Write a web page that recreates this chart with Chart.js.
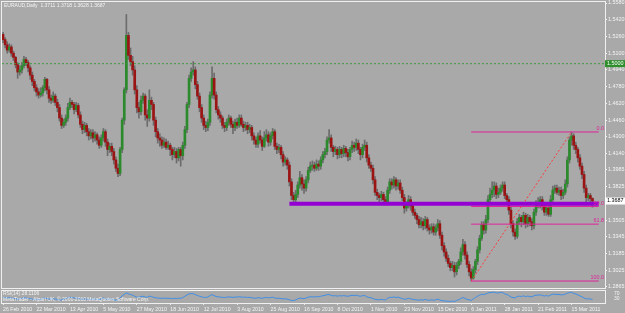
<!DOCTYPE html>
<html>
<head>
<meta charset="utf-8">
<script src="https://cdn.jsdelivr.net/npm/chart.js@4.4.0/dist/chart.umd.min.js"></script>
<style>
  html, body { margin: 0; padding: 0; background: #a9a9a9; overflow: hidden; }
  #wrap { position: relative; width: 625px; height: 313px; }
  #main { position: absolute; left: 0; top: 0; }
  #sub { position: absolute; left: 0; top: 289px; }
</style>
</head>
<body>
<div id="wrap">
  <canvas id="main" width="625" height="290"></canvas>
  <canvas id="sub" width="625" height="24"></canvas>
</div>
<script>
// EURAUD Daily, one entry per bar (26 Feb 2010 .. 25 Mar 2011)
const opens = [
  1.528,1.523,1.518,1.513,1.516,1.510,1.506,1.499,1.492,1.494,
  1.498,1.504,1.501,1.496,1.489,1.483,1.477,1.473,1.470,1.472,
  1.477,1.485,1.475,1.467,1.465,1.469,1.463,1.458,1.448,1.441,
  1.444,1.448,1.458,1.463,1.461,1.456,1.460,1.451,1.442,1.437,
  1.441,1.435,1.431,1.434,1.429,1.432,1.427,1.422,1.429,1.435,
  1.425,1.418,1.421,1.416,1.408,1.400,1.395,1.418,1.446,1.475,
  1.527,1.508,1.502,1.494,1.475,1.458,1.454,1.465,1.469,1.451,
  1.448,1.465,1.461,1.446,1.435,1.429,1.427,1.422,1.425,1.420,
  1.422,1.418,1.413,1.416,1.410,1.418,1.412,1.422,1.437,1.461,
  1.486,1.492,1.494,1.480,1.469,1.458,1.448,1.441,1.439,1.444,
  1.470,1.486,1.470,1.456,1.451,1.448,1.441,1.439,1.444,1.448,
  1.442,1.439,1.444,1.441,1.448,1.442,1.439,1.441,1.437,1.439,
  1.431,1.427,1.423,1.431,1.427,1.421,1.429,1.432,1.425,1.431,
  1.435,1.421,1.418,1.420,1.413,1.406,1.408,1.403,1.387,1.374,
  1.370,1.375,1.384,1.391,1.385,1.381,1.389,1.398,1.402,1.403,
  1.400,1.404,1.402,1.408,1.413,1.416,1.427,1.429,1.420,1.416,
  1.418,1.413,1.418,1.414,1.419,1.415,1.411,1.418,1.422,1.420,
  1.424,1.418,1.413,1.420,1.422,1.410,1.403,1.400,1.389,1.377,
  1.374,1.372,1.375,1.370,1.368,1.379,1.387,1.384,1.389,1.383,
  1.386,1.379,1.372,1.362,1.365,1.370,1.364,1.358,1.355,1.351,
  1.346,1.349,1.345,1.351,1.343,1.341,1.344,1.339,1.343,1.347,
  1.336,1.326,1.320,1.314,1.309,1.305,1.307,1.301,1.307,1.311,
  1.320,1.327,1.317,1.308,1.301,1.295,1.303,1.311,1.322,1.333,
  1.346,1.341,1.351,1.370,1.375,1.379,1.383,1.375,1.377,1.381,
  1.384,1.374,1.370,1.360,1.347,1.339,1.335,1.349,1.353,1.349,
  1.355,1.347,1.353,1.349,1.345,1.358,1.366,1.365,1.370,1.364,
  1.358,1.362,1.356,1.370,1.379,1.381,1.377,1.379,1.374,1.377,
  1.385,1.408,1.427,1.431,1.422,1.418,1.410,1.402,1.394,1.381,
  1.372,1.374,1.3711
];
const highs = [
  1.530,1.525,1.521,1.519,1.518,1.512,1.507,1.501,1.498,1.501,
  1.507,1.506,1.503,1.498,1.492,1.485,1.480,1.476,1.477,1.479,
  1.487,1.486,1.478,1.470,1.473,1.471,1.466,1.461,1.451,1.447,
  1.451,1.462,1.467,1.465,1.463,1.463,1.462,1.454,1.445,1.444,
  1.443,1.438,1.437,1.437,1.435,1.434,1.430,1.432,1.438,1.437,
  1.428,1.424,1.424,1.419,1.411,1.404,1.420,1.448,1.477,1.547,
  1.530,1.515,1.507,1.498,1.479,1.463,1.469,1.472,1.471,1.456,
  1.475,1.468,1.463,1.449,1.438,1.433,1.430,1.429,1.428,1.426,
  1.424,1.420,1.420,1.419,1.420,1.420,1.425,1.440,1.463,1.489,
  1.496,1.502,1.497,1.483,1.472,1.461,1.451,1.445,1.447,1.473,
  1.497,1.491,1.473,1.459,1.454,1.450,1.444,1.447,1.451,1.450,
  1.445,1.447,1.448,1.451,1.451,1.445,1.444,1.444,1.442,1.441,
  1.434,1.430,1.434,1.436,1.430,1.435,1.437,1.435,1.434,1.438,
  1.437,1.424,1.423,1.422,1.416,1.411,1.410,1.406,1.390,1.377,
  1.379,1.387,1.397,1.394,1.389,1.392,1.401,1.406,1.407,1.406,
  1.408,1.407,1.411,1.416,1.419,1.430,1.437,1.432,1.422,1.421,
  1.420,1.421,1.420,1.422,1.421,1.418,1.420,1.426,1.425,1.428,
  1.427,1.420,1.423,1.427,1.425,1.413,1.406,1.403,1.392,1.380,
  1.376,1.378,1.377,1.373,1.382,1.390,1.390,1.392,1.391,1.389,
  1.389,1.382,1.375,1.368,1.374,1.373,1.367,1.361,1.357,1.354,
  1.353,1.352,1.354,1.353,1.346,1.347,1.347,1.346,1.351,1.350,
  1.339,1.329,1.323,1.317,1.311,1.311,1.310,1.310,1.313,1.324,
  1.332,1.330,1.320,1.311,1.304,1.306,1.313,1.325,1.336,1.349,
  1.349,1.355,1.374,1.381,1.387,1.387,1.386,1.381,1.384,1.387,
  1.387,1.376,1.373,1.363,1.350,1.342,1.352,1.356,1.355,1.358,
  1.357,1.356,1.355,1.352,1.361,1.369,1.372,1.373,1.373,1.367,
  1.365,1.365,1.374,1.383,1.384,1.384,1.382,1.382,1.380,1.389,
  1.411,1.430,1.4347,1.433,1.425,1.420,1.413,1.405,1.397,1.384,
  1.376,1.376,1.3718
];
const lows = [
  1.520,1.515,1.510,1.511,1.507,1.503,1.496,1.486,1.489,1.491,
  1.496,1.498,1.492,1.485,1.479,1.474,1.469,1.467,1.468,1.469,
  1.474,1.471,1.463,1.462,1.463,1.460,1.454,1.445,1.438,1.439,
  1.441,1.445,1.456,1.458,1.452,1.454,1.448,1.439,1.433,1.434,
  1.431,1.427,1.428,1.425,1.426,1.423,1.419,1.420,1.426,1.421,
  1.412,1.415,1.412,1.404,1.397,1.392,1.393,1.415,1.442,1.472,
  1.504,1.498,1.489,1.471,1.453,1.448,1.451,1.462,1.446,1.440,
  1.445,1.456,1.441,1.430,1.424,1.421,1.419,1.420,1.418,1.418,
  1.412,1.408,1.410,1.405,1.407,1.402,1.408,1.419,1.434,1.458,
  1.483,1.489,1.476,1.466,1.454,1.444,1.437,1.435,1.436,1.441,
  1.467,1.466,1.453,1.447,1.444,1.438,1.435,1.436,1.441,1.439,
  1.433,1.436,1.438,1.439,1.440,1.435,1.436,1.433,1.434,1.427,
  1.423,1.420,1.420,1.424,1.417,1.420,1.426,1.421,1.422,1.428,
  1.418,1.414,1.415,1.409,1.402,1.403,1.399,1.383,1.370,1.366,
  1.367,1.372,1.381,1.379,1.376,1.378,1.386,1.396,1.398,1.397,
  1.398,1.398,1.399,1.405,1.410,1.413,1.424,1.416,1.411,1.413,
  1.409,1.410,1.410,1.411,1.411,1.407,1.408,1.415,1.416,1.417,
  1.414,1.408,1.410,1.417,1.406,1.400,1.397,1.385,1.374,1.370,
  1.368,1.369,1.367,1.365,1.365,1.376,1.380,1.381,1.379,1.380,
  1.376,1.369,1.357,1.359,1.362,1.360,1.355,1.352,1.347,1.343,
  1.343,1.341,1.342,1.340,1.337,1.338,1.336,1.336,1.340,1.333,
  1.322,1.316,1.311,1.306,1.302,1.302,1.296,1.298,1.304,1.308,
  1.317,1.313,1.305,1.297,1.2922,1.294,1.300,1.308,1.319,1.331,
  1.337,1.338,1.348,1.367,1.372,1.373,1.371,1.372,1.375,1.378,
  1.371,1.366,1.356,1.343,1.335,1.332,1.333,1.346,1.344,1.346,
  1.343,1.344,1.345,1.341,1.342,1.355,1.362,1.362,1.360,1.355,
  1.355,1.354,1.354,1.367,1.376,1.375,1.374,1.370,1.371,1.375,
  1.382,1.405,1.422,1.418,1.414,1.406,1.399,1.390,1.377,1.368,
  1.369,1.367,1.3628
];
const closes = [
  1.523,1.518,1.513,1.516,1.510,1.506,1.499,1.492,1.494,1.498,
  1.504,1.501,1.496,1.489,1.483,1.477,1.473,1.470,1.472,1.477,
  1.485,1.475,1.467,1.465,1.469,1.463,1.458,1.448,1.441,1.444,
  1.448,1.458,1.463,1.461,1.456,1.460,1.451,1.442,1.437,1.441,
  1.435,1.431,1.434,1.429,1.432,1.427,1.422,1.429,1.435,1.425,
  1.418,1.421,1.416,1.408,1.400,1.395,1.418,1.446,1.475,1.527,
  1.508,1.502,1.494,1.475,1.458,1.454,1.465,1.469,1.451,1.448,
  1.465,1.461,1.446,1.435,1.429,1.427,1.422,1.425,1.420,1.422,
  1.418,1.413,1.416,1.410,1.418,1.412,1.422,1.437,1.461,1.486,
  1.492,1.494,1.480,1.469,1.458,1.448,1.441,1.439,1.444,1.470,
  1.486,1.470,1.456,1.451,1.448,1.441,1.439,1.444,1.448,1.442,
  1.439,1.444,1.441,1.448,1.442,1.439,1.441,1.437,1.439,1.431,
  1.427,1.423,1.431,1.427,1.421,1.429,1.432,1.425,1.431,1.435,
  1.421,1.418,1.420,1.413,1.406,1.408,1.403,1.387,1.374,1.370,
  1.375,1.384,1.391,1.385,1.381,1.389,1.398,1.402,1.403,1.400,
  1.404,1.402,1.408,1.413,1.416,1.427,1.429,1.420,1.416,1.418,
  1.413,1.418,1.414,1.419,1.415,1.411,1.418,1.422,1.420,1.424,
  1.418,1.413,1.420,1.422,1.410,1.403,1.400,1.389,1.377,1.374,
  1.372,1.375,1.370,1.368,1.379,1.387,1.384,1.389,1.383,1.386,
  1.379,1.372,1.362,1.365,1.370,1.364,1.358,1.355,1.351,1.346,
  1.349,1.345,1.351,1.343,1.341,1.344,1.339,1.343,1.347,1.336,
  1.326,1.320,1.314,1.309,1.305,1.307,1.301,1.307,1.311,1.320,
  1.327,1.317,1.308,1.301,1.295,1.303,1.311,1.322,1.333,1.346,
  1.341,1.351,1.370,1.375,1.379,1.383,1.375,1.377,1.381,1.384,
  1.374,1.370,1.360,1.347,1.339,1.335,1.349,1.353,1.349,1.355,
  1.347,1.353,1.349,1.345,1.358,1.366,1.365,1.370,1.364,1.358,
  1.362,1.356,1.370,1.379,1.381,1.377,1.379,1.374,1.377,1.385,
  1.408,1.427,1.431,1.422,1.418,1.410,1.402,1.394,1.381,1.372,
  1.374,1.371,1.3687
];
// RSI(14)
const rsi = [
  42,40,38,40,37,35,33,30,32,35, 40,38,35,32,30,28,27,26,28,32,
  38,34,30,29,33,30,28,25,23,30, 34,40,44,42,38,40,35,30,28,32,
  29,27,30,28,31,28,26,32,38,32, 28,31,28,25,22,20,40,55,66,78,
  70,66,60,52,45,44,50,52,45,44, 52,50,44,40,38,37,36,38,36,37,
  35,33,36,33,38,35,42,52,62,70, 72,72,64,58,52,47,44,43,46,58,
  64,56,50,47,46,43,42,45,47,45, 43,46,45,48,46,44,45,43,44,40,
  38,36,41,39,36,41,43,39,42,45, 38,36,37,34,31,32,30,24,20,19,
  24,32,38,35,33,38,45,48,48,46, 49,48,52,56,58,64,65,58,55,56,
  53,56,54,57,54,52,56,59,57,60, 55,52,56,58,48,43,41,34,28,26,
  25,28,25,24,36,44,42,47,42,45, 39,34,28,31,36,32,28,26,24,22,
  25,22,28,22,21,25,21,25,30,23, 18,16,14,13,12,15,12,20,25,35,
  42,35,28,24,20,32,42,52,60,68, 64,70,78,80,82,84,76,78,80,81,
  70,66,57,46,41,39,50,53,50,55, 49,53,50,47,56,61,60,63,58,54,
  57,53,62,67,68,65,66,62,64,68, 76,81,82,74,70,63,55,47,38,31,
  33,30,28
];
const dateLabels = ["26 Feb 2010","22 Mar 2010","13 Apr 2010","5 May 2010","27 May 2010",
  "18 Jun 2010","12 Jul 2010","3 Aug 2010","25 Aug 2010","16 Sep 2010","8 Oct 2010",
  "1 Nov 2010","23 Nov 2010","15 Dec 2010","6 Jan 2011","28 Jan 2011","21 Feb 2011","15 Mar 2011"];
const priceTicks = [1.5580,1.5420,1.5260,1.5100,1.4940,1.4780,1.4620,1.4460,1.4300,
  1.4140,1.3985,1.3825,1.3505,1.3345,1.3185,1.3025,1.2865];
const rsiTicks = [30, 70];

// drawn objects
const fibNames = ["0.0", "50.0", "61.8", "100.0"];
const fibLevels = [1.4347, 1.3635, 1.3466, 1.2922];
const fibFrom = 224, fibTo = 285;      // bar range of the fibo lines
const trendFrom = [224, 1.2922], trendTo = [272, 1.4347];
const purpleLevel = 1.3660, purpleFrom = 137;
const greenLevel = 1.5000;
const title = "EURAUD,Daily  1.3711 1.3718 1.3628 1.3687";

const FONT = "Liberation Sans";
const TXT = "#f4f4f4";
const PINK = "#e0209a";
const XMIN = -0.5, XMAX = 288;

function noPad(s) { s.paddingTop = 0; s.paddingBottom = 0; s.paddingLeft = 0; s.paddingRight = 0; }

const bodyColors = closes.map((c, i) => c >= opens[i] ? "#2b8a2b" : "#9b1414");

const hline = (x0, x1, y) => [{ x: x0, y }, { x: x1, y }];
const lineDs = (data, color, width, dash) => ({
  type: "line", data, borderColor: color, borderWidth: width, borderDash: dash || [],
  pointRadius: 0, fill: false, order: 0
});

const mainOverlay = {
  id: "mainOverlay",
  afterDatasetsDraw(chart) {
    const ctx = chart.ctx, y = chart.scales.y;
    ctx.save();
    // frame
    ctx.strokeStyle = "#f0f0f0";
    ctx.lineWidth = 1;
    ctx.strokeRect(1.5, 1.5, 604, 287);
    ctx.font = "5px '" + FONT + "'";
    ctx.textBaseline = "middle";
    ctx.fillStyle = TXT;
    ctx.fillText(title, 4, 6);
    // fibo level names
    ctx.font = "5.4px '" + FONT + "'";
    ctx.fillStyle = PINK;
    ctx.textAlign = "right";
    ctx.textBaseline = "bottom";
    fibLevels.forEach((v, k) => ctx.fillText(fibNames[k], 604, y.getPixelForValue(v) - 0.5));
    // price boxes on the axis
    ctx.textAlign = "left";
    ctx.textBaseline = "middle";
    const gy = y.getPixelForValue(greenLevel);
    ctx.fillStyle = "#2f8f2f";
    ctx.fillRect(605, gy - 3.5, 20, 7);
    ctx.fillStyle = "#ffffff";
    ctx.fillText(greenLevel.toFixed(4), 607, gy);
    const last = closes[closes.length - 1];
    const ly = y.getPixelForValue(last);
    ctx.fillStyle = "#ffffff";
    ctx.fillRect(605, ly - 3.5, 20, 7);
    ctx.fillStyle = "#000000";
    ctx.fillText(last.toFixed(4), 607, ly);
    ctx.restore();
  }
};

new Chart(document.getElementById("main"), {
  type: "bar",
  data: {
    datasets: [
      lineDs(hline(XMIN, XMAX, greenLevel), "#3f9a3f", 1, [2, 2]),
      lineDs(hline(purpleFrom, fibTo, purpleLevel), "#9400d3", 4),
      ...fibLevels.map(v => lineDs(hline(fibFrom, fibTo, v), PINK, 1)),
      lineDs([{ x: trendFrom[0], y: trendFrom[1] }, { x: trendTo[0], y: trendTo[1] }], "#ff3a3a", 1, [2, 2]),
      {
        data: closes.map((c, i) => ({ x: i, y: [opens[i], c] })),
        backgroundColor: bodyColors, barThickness: 2, minBarLength: 1,
        grouped: false, order: 1
      },
      {
        data: closes.map((c, i) => ({ x: i, y: [lows[i], highs[i]] })),
        backgroundColor: "#6c6c6c", barThickness: 1, grouped: false, order: 2
      }
    ]
  },
  options: {
    responsive: false, animation: false, events: [],
    layout: { padding: { left: 2, top: 2, bottom: 2, right: 0 } },
    plugins: { legend: { display: false }, tooltip: { enabled: false } },
    scales: {
      x: { type: "linear", min: XMIN, max: XMAX, offset: false, display: false },
      y: {
        position: "right", min: 1.28554, max: 1.55896,
        afterBuildTicks(s) { s.ticks = priceTicks.map(v => ({ value: v })); },
        afterFit(s) { s.width = 20; noPad(s); },
        ticks: { color: TXT, font: { family: FONT, size: 5.4 }, padding: 1, callback: v => v.toFixed(4) },
        grid: { drawOnChartArea: false, drawTicks: true, tickLength: 2, color: "#f0f0f0" },
        border: { display: false }
      }
    }
  },
  plugins: [mainOverlay]
});

const subOverlay = {
  id: "subOverlay",
  afterDatasetsDraw(chart) {
    const ctx = chart.ctx;
    ctx.save();
    ctx.strokeStyle = "#f0f0f0";
    ctx.lineWidth = 1;
    ctx.strokeRect(1.5, 1.5, 604, 13);
    ctx.font = "5px '" + FONT + "'";
    ctx.fillStyle = TXT;
    ctx.textBaseline = "middle";
    ctx.fillText("RSI(14) 28.1106", 3, 5);
    ctx.fillText("MetaTrader - Alpari UK, \u00a9 2001-2010 MetaQuotes Software Corp.", 3, 10.5);
    ctx.restore();
  }
};

new Chart(document.getElementById("sub"), {
  type: "line",
  data: {
    datasets: [{
      data: rsi.map((v, i) => ({ x: i, y: v })),
      borderColor: "#3d8ee8", borderWidth: 1, pointRadius: 0, fill: false
    }]
  },
  options: {
    responsive: false, animation: false, events: [],
    layout: { padding: { left: 2, top: 1, bottom: 0, right: 0 } },
    plugins: { legend: { display: false }, tooltip: { enabled: false } },
    scales: {
      x: {
        type: "linear", min: XMIN, max: XMAX, offset: false,
        afterBuildTicks(s) { s.ticks = dateLabels.map((_, k) => ({ value: k * 16 })); },
        afterFit(s) { s.height = 10; noPad(s); },
        ticks: {
          color: TXT, font: { family: FONT, size: 5.2 }, padding: 1, align: "start",
          autoSkip: false, maxRotation: 0, callback: v => dateLabels[v / 16]
        },
        grid: { drawOnChartArea: false, drawTicks: true, tickLength: 2, color: "#e8e8e8" },
        border: { display: false }
      },
      y: {
        position: "right", min: 0, max: 100,
        afterBuildTicks(s) { s.ticks = rsiTicks.map(v => ({ value: v })); },
        afterFit(s) { s.width = 20; noPad(s); },
        ticks: { color: TXT, font: { family: FONT, size: 5 }, padding: 1 },
        grid: { display: false },
        border: { display: false }
      }
    }
  },
  plugins: [subOverlay]
});
</script>
</body>
</html>
